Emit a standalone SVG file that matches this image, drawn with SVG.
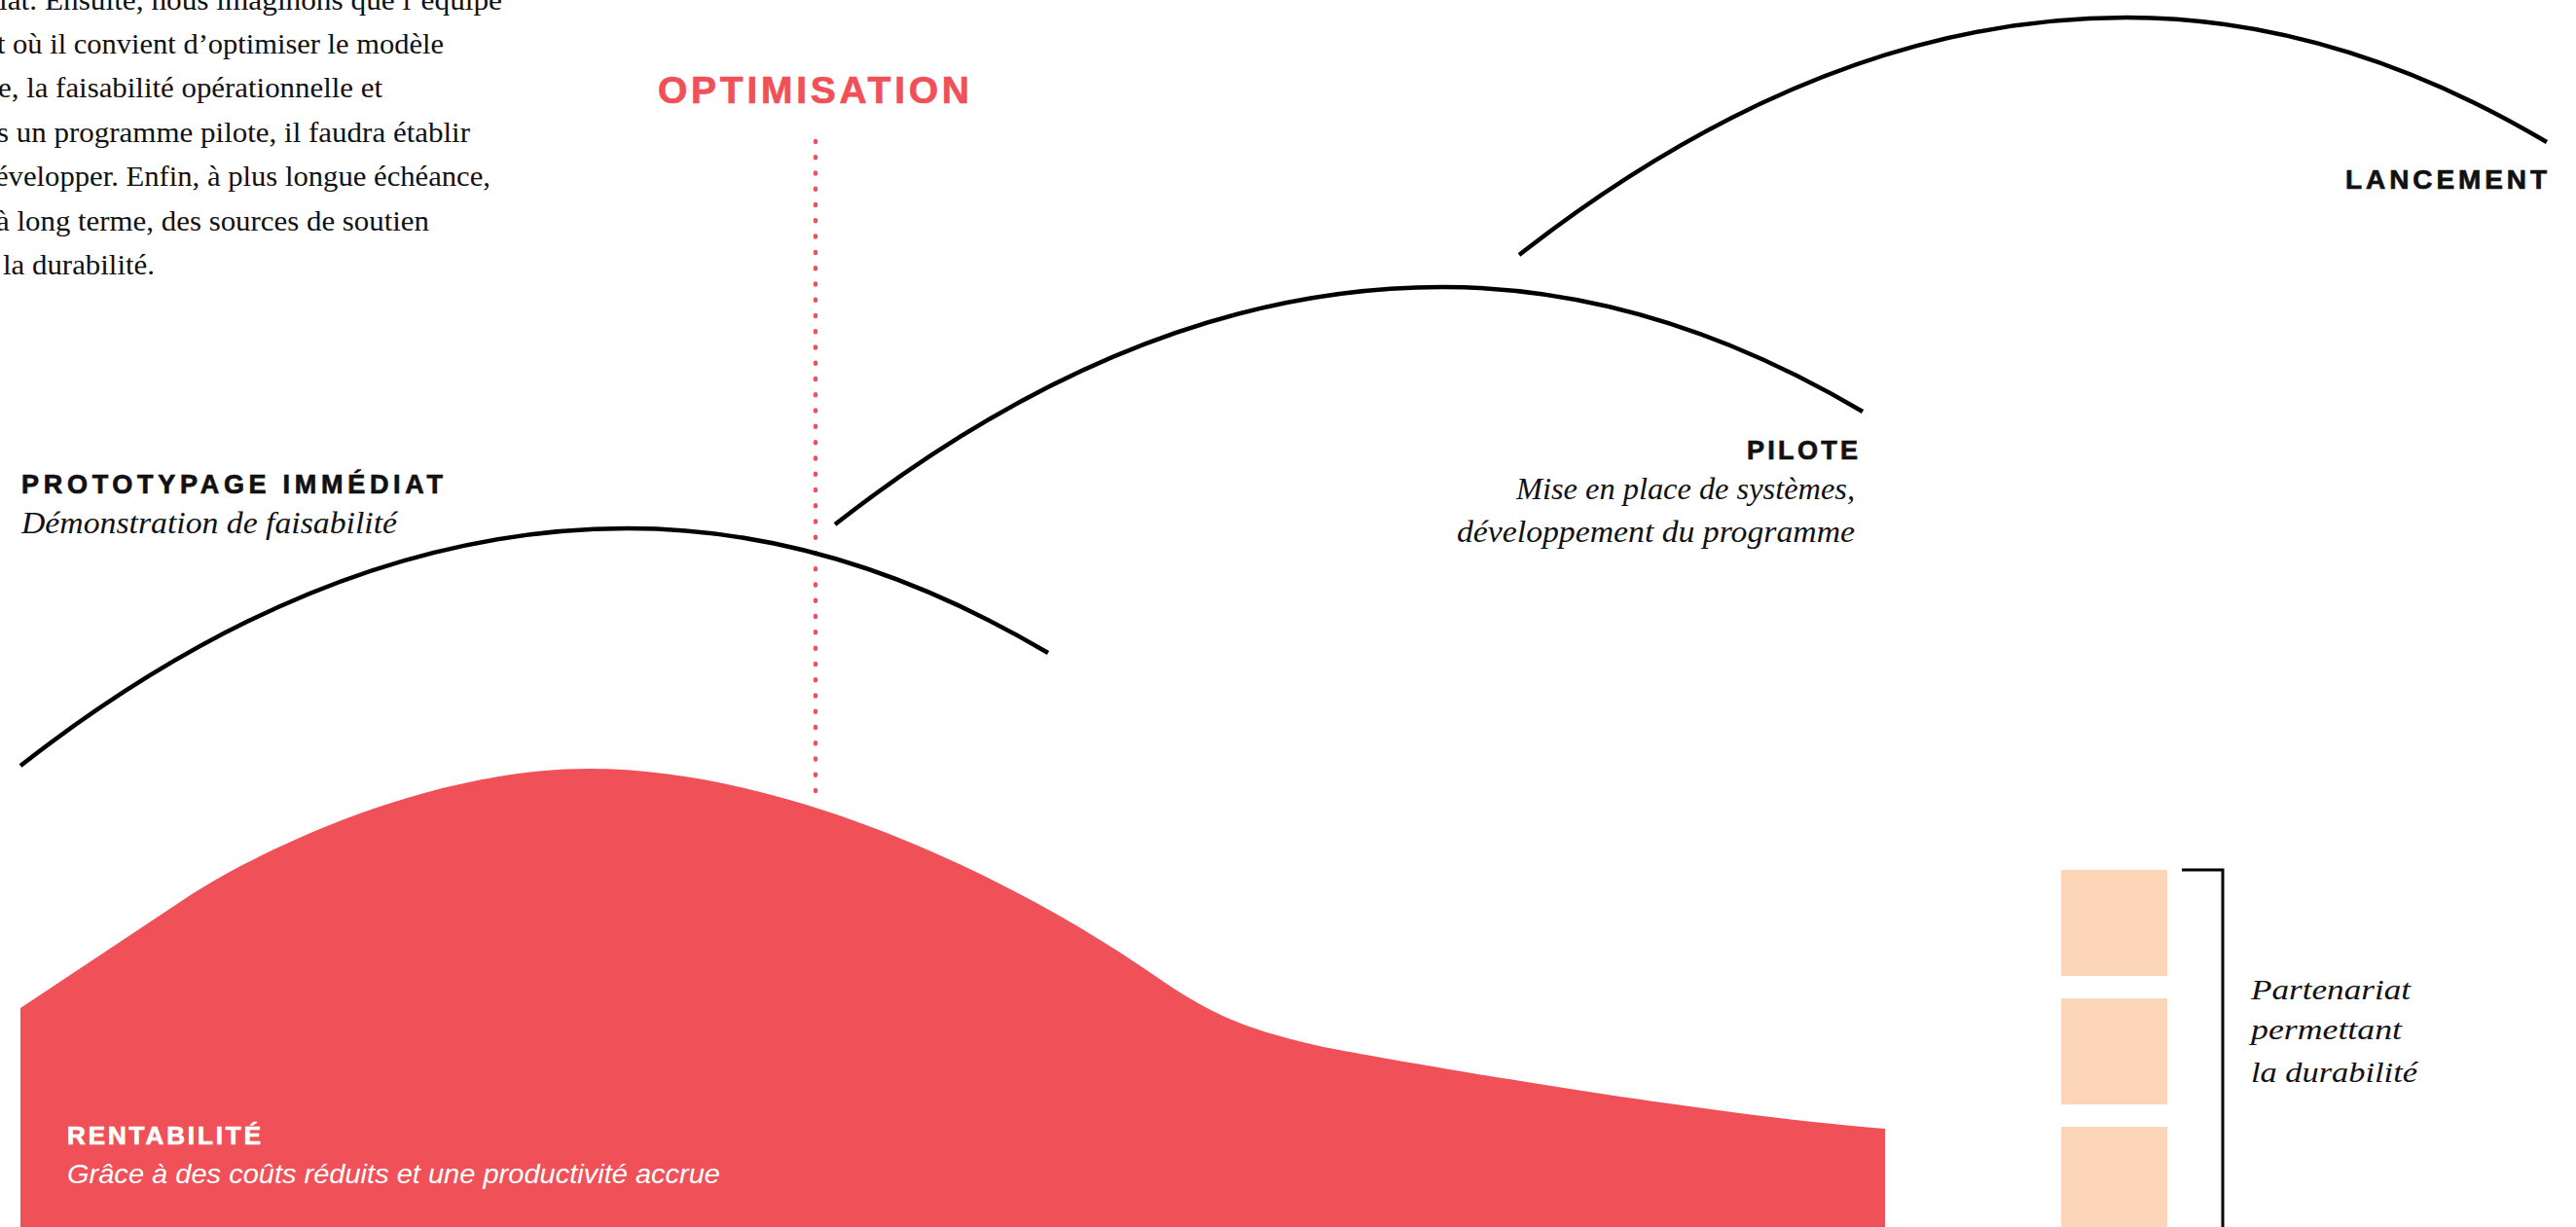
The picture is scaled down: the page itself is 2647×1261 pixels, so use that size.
<svg xmlns="http://www.w3.org/2000/svg" xmlns:xlink="http://www.w3.org/1999/xlink" width="2647" height="1261" viewBox="0 0 2647 1261">
<style>
.arc{fill:none;stroke:#000;stroke-width:4.5}
.caps{font-family:"Liberation Sans",Arial,sans-serif;font-weight:700;stroke-width:0.7}
.serif{font-family:"Liberation Serif","Times New Roman",serif;fill:#111}
.it{font-style:italic}
.body{font-size:30px}
.red{fill:#F05058}
.peach{fill:#FDD5B9}
</style>
<defs>
<path id="arcShape" d="M0,0 Q312,-244 624,-244 Q840,-244 1056,-116"/>
</defs>
<rect width="2647" height="1261" fill="#fff"/>

<g id="intro-text" class="serif body">
<text x="-1" y="10" textLength="517" lengthAdjust="spacingAndGlyphs">iat. Ensuite, nous imaginons que l’équipe</text>
<text x="-3" y="55" textLength="459" lengthAdjust="spacingAndGlyphs">t où il convient d’optimiser le modèle</text>
<text x="-2" y="100" textLength="395" lengthAdjust="spacingAndGlyphs">e, la faisabilité opérationnelle et</text>
<text x="-3" y="146" textLength="486" lengthAdjust="spacingAndGlyphs">s un programme pilote, il faudra établir</text>
<text x="-5" y="191" textLength="509" lengthAdjust="spacingAndGlyphs">évelopper. Enfin, à plus longue échéance,</text>
<text x="-4" y="237" textLength="445" lengthAdjust="spacingAndGlyphs">à long terme, des sources de soutien</text>
<text x="3" y="282" textLength="156" lengthAdjust="spacingAndGlyphs">la durabilité.</text>
</g>

<g id="rentabilite">
<path class="red" d="M21,1261 L21,1036 L191,923 C261,877 436,790 606,790 C806,790 1040,900 1190,1005 C1250,1047 1290,1060 1360,1076 C1460,1095 1750,1145 1937,1160 L1937,1261 Z"/>
<text class="caps" x="69" y="1176" font-size="26" fill="#fff" stroke="#fff" textLength="199" lengthAdjust="spacing">RENTABILITÉ</text>
<text x="69" y="1216" font-family="Liberation Sans, Arial, sans-serif" font-style="italic" font-size="28" fill="#fff" textLength="671" lengthAdjust="spacingAndGlyphs">Grâce à des coûts réduits et une productivité accrue</text>
</g>

<g id="optimisation">
<text class="caps" x="676" y="106" font-size="39" fill="#F05058" stroke="#F05058" textLength="320" lengthAdjust="spacing">OPTIMISATION</text>
<line x1="838" y1="145" x2="838" y2="813" stroke="#F05058" stroke-width="4.5" stroke-linecap="round" stroke-dasharray="1 15.27"/>
</g>

<g id="prototypage">
<use xlink:href="#arcShape" href="#arcShape" class="arc" transform="translate(21,787)"/>
<text class="caps" x="22" y="507" font-size="27" fill="#111" stroke="#111" textLength="433" lengthAdjust="spacing">PROTOTYPAGE IMMÉDIAT</text>
<text class="serif it" x="22" y="548" font-size="31" textLength="386" lengthAdjust="spacingAndGlyphs">Démonstration de faisabilité</text>
</g>

<g id="pilote">
<use xlink:href="#arcShape" href="#arcShape" class="arc" transform="translate(858,539)"/>
<text class="caps" x="1909" y="472" font-size="27" fill="#111" stroke="#111" text-anchor="end" textLength="114" lengthAdjust="spacing">PILOTE</text>
<text class="serif it" x="1906" y="513" font-size="31" text-anchor="end" textLength="348" lengthAdjust="spacingAndGlyphs">Mise en place de systèmes,</text>
<text class="serif it" x="1906" y="557" font-size="31" text-anchor="end" textLength="409" lengthAdjust="spacingAndGlyphs">développement du programme</text>
</g>

<g id="lancement">
<use xlink:href="#arcShape" href="#arcShape" class="arc" transform="translate(1561,262)"/>
<text class="caps" x="2617" y="194" font-size="28" fill="#111" stroke="#111" text-anchor="end" textLength="207" lengthAdjust="spacing">LANCEMENT</text>
</g>

<g id="partenariat">
<rect class="peach" x="2118" y="894" width="109" height="109"/>
<rect class="peach" x="2118" y="1026" width="109" height="109"/>
<rect class="peach" x="2118" y="1158" width="109" height="109"/>
<path d="M2242,894 H2284 V1261" fill="none" stroke="#000" stroke-width="3"/>
<text class="serif it" x="2313" y="1027" font-size="30" textLength="164" lengthAdjust="spacingAndGlyphs">Partenariat</text>
<text class="serif it" x="2313" y="1068" font-size="30" textLength="155" lengthAdjust="spacingAndGlyphs">permettant</text>
<text class="serif it" x="2313" y="1112" font-size="30" textLength="171" lengthAdjust="spacingAndGlyphs">la durabilité</text>
</g>

<g id="connectors"></g>
</svg>
